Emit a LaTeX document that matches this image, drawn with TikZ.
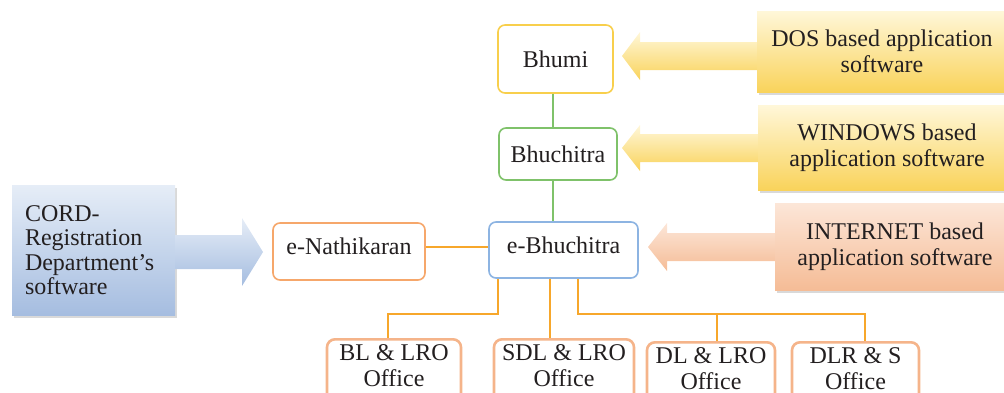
\documentclass[tikz,border=0pt]{standalone}
\usepackage{fontspec}
\setmainfont{Liberation Serif}
\usepackage{tikz}
\usetikzlibrary{calc,shadows}
\definecolor{txt}{HTML}{231F20}
\definecolor{yedge}{HTML}{F8CF4C}
\definecolor{gedge}{HTML}{7FC26A}
\definecolor{bedge}{HTML}{8DB4E2}
\definecolor{oedge}{HTML}{F6A76B}
\definecolor{offedge}{HTML}{F5B48A}
\definecolor{oline}{HTML}{F7A72B}
\definecolor{yltop}{HTML}{FFF7D9}
\definecolor{ylbot}{HTML}{F9D35B}
\definecolor{pchtop}{HTML}{FCE6D8}
\definecolor{pchbot}{HTML}{F5BC96}
\definecolor{bltop}{HTML}{E6EDF7}
\definecolor{blbot}{HTML}{A5BDE0}
% fat arrow: style, box anchor, tip, head length, head half, shaft half
\newcommand\fatarrow[6]{%
  \shade[#1] (#3) -- ++(#4,#5) -- ++(0,{#6-#5}) -- ($(#2 |- #3)+(0,#6)$) -- ++(0,{-2*#6})
    -- ($(#3)+(#4,-#6)$) -- ++(0,{#6-#5}) -- cycle;}

\begin{document}
\begin{tikzpicture}[x=1pt,y=1pt,
    font=\fontsize{24}{26}\selectfont, text=txt,
    sysbox/.style={draw, rounded corners=7pt, line width=1.6pt, fill=white, align=center, inner sep=0pt},
    office/.style={draw=offedge, rounded corners=8pt, line width=2.6pt, fill=white, align=center,
      anchor=north, inner xsep=0pt, inner ysep=5pt, text depth=14pt},
    callout/.style={align=center, inner sep=0pt, drop shadow={opacity=0.3, shadow xshift=1.5pt, shadow yshift=-3pt}},
    link/.style={line width=1.6pt}]
  \useasboundingbox (0,0) rectangle (1004,-392);
  \clip (0,0) rectangle (1004,-392);

  % systems
  \node[sysbox, draw=yedge, minimum width=115pt, minimum height=68pt] (bhumi) at (555.5,-59) {Bhumi};
  \node[sysbox, draw=gedge, minimum width=118pt, minimum height=52pt] (bhuchitra) at (558,-154) {Bhuchitra};
  \node[sysbox, draw=bedge, minimum width=149pt, minimum height=56pt, text height=17pt, text depth=11pt] (ebhuchitra) at (563.5,-250) {e-Bhuchitra};
  \node[sysbox, draw=oedge, minimum width=152pt, minimum height=57pt, text height=17pt, text depth=11pt] (enathi) at (349,-251.5) {e-Nathikaran};

  % offices
  \foreach \n/\x/\y/\w/\t in {bl/394/338/134/{BL \& LRO},sdl/564/338/140/{SDL \& LRO},
      dl/711/341/128/{DL \& LRO},dlr/855.5/341/127/{DLR \& S}}
  {
    \node[office, minimum width=\w pt] (\n) at (\x,-\y) {\t\\Office};
  }

  % application software
  \node[callout, top color=yltop, bottom color=ylbot, minimum width=250pt, minimum height=81pt] (dos) at (882,-51.5) {DOS based application\\software};
  \node[callout, top color=yltop, bottom color=ylbot, minimum width=258pt, minimum height=85pt] (win) at (887,-147.5) {WINDOWS based\\application software};
  \node[callout, top color=pchtop, bottom color=pchbot, minimum width=240pt, minimum height=87pt] (net) at (895,-246.5) {INTERNET based\\application software};
  \node[callout, top color=bltop, bottom color=blbot, minimum width=163pt, minimum height=130pt,
    text width=137pt, align=left, font=\fontsize{24}{24.5}\selectfont] (cord) at (93.5,-250) {CORD-\\Registration\\Department's\\software};

  \coordinate (dostip) at (622,-56);
  \coordinate (wintip) at (622,-148);
  \coordinate (nettip) at (648,-247);
  \coordinate (cordtip) at (263,-252);
  \fatarrow{top color=yltop, bottom color=ylbot}{dos.west}{dostip}{18}{24}{14}
  \fatarrow{top color=yltop, bottom color=ylbot}{win.west}{wintip}{18}{23}{14}
  \fatarrow{top color=pchtop, bottom color=pchbot}{net.west}{nettip}{19}{24}{14}
  \fatarrow{top color=bltop, bottom color=blbot}{cord.east}{cordtip}{-21}{34}{17}

  % links
  \coordinate (g1) at ($(bhumi.south)+(-2.5,0)$);
  \draw[link, gedge] (g1) -- (g1 |- bhuchitra.north);
  \draw[link, gedge] (g1 |- bhuchitra.south) -- (g1 |- ebhuchitra.north);
  \coordinate (e1) at ($(enathi.east)+(0,4.5)$);
  \draw[link, oline] (e1) -- (e1 -| ebhuchitra.west);

  \coordinate (o1) at ($(ebhuchitra.south)+(-65.5,0)$);
  \coordinate (o2) at ($(ebhuchitra.south)+(-13.5,0)$);
  \coordinate (o3) at ($(ebhuchitra.south)+(14.5,0)$);
  \draw[link, oline] (o1) -- ++(0,-35) -| ($(bl.north)+(-6,0)$);
  \draw[link, oline] (o2) -- (o2 |- sdl.north);
  \draw[link, oline] (o3) -- ++(0,-35) -| ($(dlr.north)+(9.5,0)$);
  \draw[link, oline] ($(dl.north)+(6,0)$) -- ++(0,28);
\end{tikzpicture}
\end{document}
